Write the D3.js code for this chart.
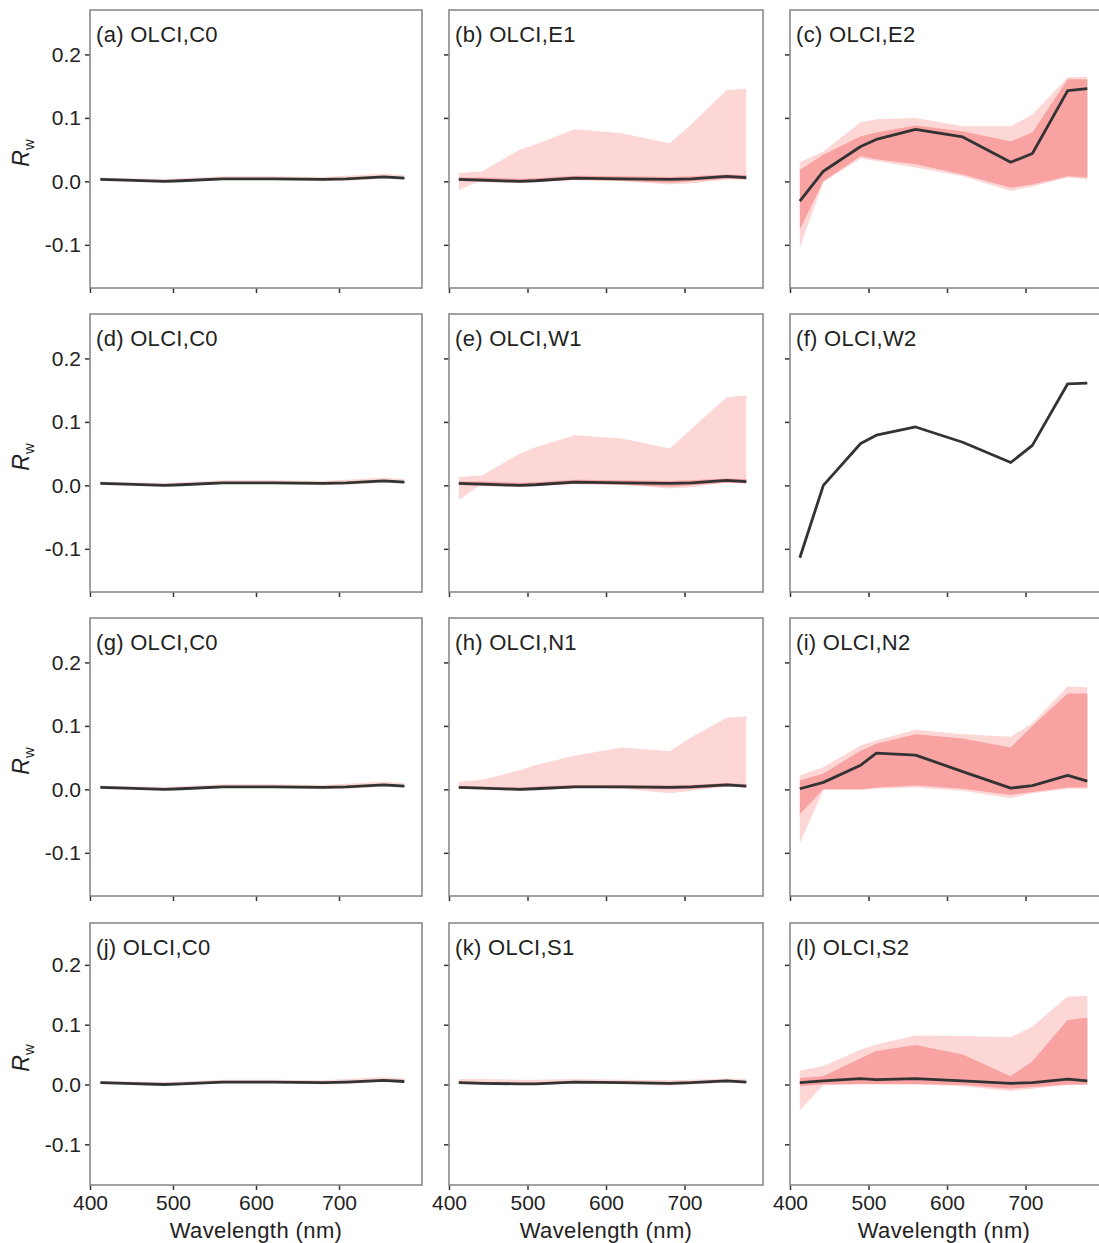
<!DOCTYPE html>
<html>
<head>
<meta charset="utf-8">
<script src="https://cdn.jsdelivr.net/npm/d3@7"></script>
<style>
  body { margin: 0; background: #fff; }
  text { font-family: "Liberation Sans", Arial, sans-serif; fill: #222; }
</style>
</head>
<body>
<script>
// OLCI band centres (nm)
var wl = [412.5, 442.5, 490, 510, 560, 620, 681.25, 708.75, 753.75, 778.75];

// C0 (clear)
var C0_mean    = [0.003, 0.002, 0.000, 0.001, 0.004, 0.004, 0.003, 0.004, 0.007, 0.005];
var C0_lightHi = [0.006, 0.005, 0.004, 0.005, 0.008, 0.008, 0.007, 0.009, 0.012, 0.010];
var C0_lightLo = [0.001, 0.000, -0.002, -0.001, 0.002, 0.002, 0.000, 0.001, 0.004, 0.003];
var C0_darkHi  = [0.004, 0.003, 0.001, 0.002, 0.005, 0.005, 0.004, 0.005, 0.008, 0.006];
var C0_darkLo  = [0.002, 0.001, -0.001, 0.000, 0.003, 0.003, 0.002, 0.003, 0.006, 0.004];

// E1 / E2
var E1_mean    = [0.003, 0.002, 0.000, 0.001, 0.005, 0.004, 0.003, 0.004, 0.008, 0.006];
var E1_lightHi = [0.013, 0.016, 0.050, 0.058, 0.082, 0.076, 0.060, 0.090, 0.144, 0.146];
var E1_lightLo = [-0.014, 0.003, 0.000, 0.000, 0.003, 0.000, -0.005, -0.003, 0.003, 0.003];
var E1_darkHi  = [0.006, 0.006, 0.004, 0.005, 0.009, 0.008, 0.007, 0.008, 0.011, 0.010];
var E1_darkLo  = [0.000, -0.001, -0.002, -0.001, 0.002, 0.001, -0.002, 0.000, 0.004, 0.003];

var E2_mean    = [-0.031, 0.016, 0.055, 0.066, 0.082, 0.070, 0.030, 0.044, 0.143, 0.146];
var E2_lightHi = [0.030, 0.047, 0.093, 0.098, 0.100, 0.087, 0.087, 0.105, 0.164, 0.165];
var E2_lightLo = [-0.104, -0.001, 0.036, 0.032, 0.022, 0.008, -0.015, -0.008, 0.006, 0.003];
var E2_darkHi  = [0.018, 0.042, 0.071, 0.077, 0.088, 0.079, 0.063, 0.077, 0.161, 0.161];
var E2_darkLo  = [-0.076, 0.000, 0.040, 0.035, 0.027, 0.011, -0.010, -0.005, 0.008, 0.006];

// W1 / W2
var W1_mean    = [0.003, 0.002, 0.000, 0.001, 0.005, 0.004, 0.003, 0.004, 0.008, 0.006];
var W1_lightHi = [0.013, 0.016, 0.050, 0.060, 0.079, 0.074, 0.058, 0.089, 0.139, 0.142];
var W1_lightLo = [-0.023, 0.003, 0.000, 0.001, 0.004, 0.001, -0.005, -0.003, 0.005, 0.004];
var W1_darkHi  = [0.006, 0.006, 0.004, 0.005, 0.009, 0.008, 0.007, 0.008, 0.011, 0.010];
var W1_darkLo  = [0.000, -0.001, -0.002, -0.001, 0.002, 0.001, -0.002, 0.000, 0.004, 0.003];

var W2_mean    = [-0.114, 0.000, 0.066, 0.079, 0.092, 0.068, 0.036, 0.063, 0.160, 0.161];

// N1 / N2
var N1_mean    = [0.003, 0.002, 0.000, 0.001, 0.004, 0.004, 0.003, 0.004, 0.007, 0.005];
var N1_lightHi = [0.012, 0.015, 0.030, 0.038, 0.053, 0.066, 0.060, 0.082, 0.113, 0.115];
var N1_lightLo = [0.000, 0.002, 0.000, 0.001, 0.003, 0.001, -0.006, -0.002, 0.004, 0.004];
var N1_darkHi  = [0.005, 0.004, 0.003, 0.004, 0.007, 0.007, 0.006, 0.007, 0.010, 0.008];
var N1_darkLo  = [0.001, 0.000, -0.002, -0.001, 0.002, 0.002, 0.000, 0.001, 0.005, 0.003];

var N2_mean    = [0.001, 0.011, 0.038, 0.057, 0.054, 0.028, 0.002, 0.006, 0.022, 0.013];
var N2_lightHi = [0.022, 0.035, 0.069, 0.077, 0.094, 0.087, 0.083, 0.104, 0.162, 0.161];
var N2_lightLo = [-0.085, -0.001, -0.001, 0.001, 0.003, -0.002, -0.014, -0.006, 0.001, 0.001];
var N2_darkHi  = [0.014, 0.025, 0.061, 0.072, 0.087, 0.080, 0.066, 0.100, 0.151, 0.151];
var N2_darkLo  = [-0.039, 0.000, 0.000, 0.003, 0.006, 0.001, -0.009, -0.004, 0.003, 0.003];

// S1 / S2
var S1_mean    = [0.003, 0.002, 0.001, 0.001, 0.004, 0.003, 0.002, 0.003, 0.006, 0.004];
var S1_lightHi = [0.009, 0.009, 0.008, 0.008, 0.009, 0.008, 0.007, 0.008, 0.010, 0.009];
var S1_lightLo = [0.001, 0.000, -0.001, -0.001, 0.002, 0.001, -0.002, 0.000, 0.003, 0.002];
var S1_darkHi  = [0.005, 0.004, 0.003, 0.003, 0.006, 0.005, 0.004, 0.005, 0.008, 0.006];
var S1_darkLo  = [0.002, 0.001, 0.000, 0.000, 0.003, 0.002, 0.000, 0.002, 0.005, 0.003];

var S2_mean    = [0.003, 0.006, 0.010, 0.008, 0.010, 0.006, 0.002, 0.003, 0.009, 0.006];
var S2_lightHi = [0.023, 0.031, 0.058, 0.067, 0.082, 0.081, 0.079, 0.097, 0.147, 0.148];
var S2_lightLo = [-0.043, -0.001, 0.000, 0.000, 0.000, -0.003, -0.011, -0.007, -0.001, -0.001];
var S2_darkHi  = [0.011, 0.014, 0.044, 0.056, 0.066, 0.050, 0.014, 0.039, 0.108, 0.112];
var S2_darkLo  = [-0.003, 0.000, 0.001, 0.001, 0.001, -0.001, -0.007, -0.004, 0.000, 0.000];

var panelLabels = ["(a) OLCI,C0", "(b) OLCI,E1", "(c) OLCI,E2",
                   "(d) OLCI,C0", "(e) OLCI,W1", "(f) OLCI,W2",
                   "(g) OLCI,C0", "(h) OLCI,N1", "(i) OLCI,N2",
                   "(j) OLCI,C0", "(k) OLCI,S1", "(l) OLCI,S2"];
var panelSets = ["C0", "E1", "E2", "C0", "W1", "W2", "C0", "N1", "N2", "C0", "S1", "S2"];
var xTicks = [400, 500, 600, 700];
var yTicks = [-0.1, 0.0, 0.1, 0.2];

var sets = {
  C0: [C0_mean, C0_lightLo, C0_lightHi, C0_darkLo, C0_darkHi],
  E1: [E1_mean, E1_lightLo, E1_lightHi, E1_darkLo, E1_darkHi],
  E2: [E2_mean, E2_lightLo, E2_lightHi, E2_darkLo, E2_darkHi],
  W1: [W1_mean, W1_lightLo, W1_lightHi, W1_darkLo, W1_darkHi],
  W2: [W2_mean, null, null, null, null],
  N1: [N1_mean, N1_lightLo, N1_lightHi, N1_darkLo, N1_darkHi],
  N2: [N2_mean, N2_lightLo, N2_lightHi, N2_darkLo, N2_darkHi],
  S1: [S1_mean, S1_lightLo, S1_lightHi, S1_darkLo, S1_darkHi],
  S2: [S2_mean, S2_lightLo, S2_lightHi, S2_darkLo, S2_darkHi]
};

var W = 1099, H = 1243;
var colX = [[90, 422], [449, 763], [790, 1104]];
var rowY = [[10, 288], [314, 592], [618, 896], [923, 1185]];

var svg = d3.select("body").append("svg").attr("width", W).attr("height", H);

panelLabels.forEach(function(lab, i) {
  var r = Math.floor(i / 3), c = i % 3;
  var x = d3.scaleLinear().domain([400, 800]).range(colX[c]);
  var y = d3.scaleLinear().domain([-0.168, 0.27]).range([rowY[r][1], rowY[r][0]]);
  var s = sets[panelSets[i]];
  var g = svg.append("g");

  var cid = "clip" + i;
  g.append("clipPath").attr("id", cid).append("rect")
    .attr("x", colX[c][0]).attr("y", rowY[r][0])
    .attr("width", colX[c][1] - colX[c][0]).attr("height", rowY[r][1] - rowY[r][0]);
  var plot = g.append("g").attr("clip-path", "url(#" + cid + ")");

  function band(lo, hi, col) {
    var area = d3.area()
      .x(function(d, k) { return x(wl[k]); })
      .y0(function(d, k) { return y(lo[k]); })
      .y1(function(d, k) { return y(hi[k]); });
    plot.append("path").attr("d", area(wl)).attr("fill", col);
  }
  if (s[1]) band(s[1], s[2], "#fdd6d6");
  if (s[3]) band(s[3], s[4], "#f8a2a2");

  var line = d3.line()
    .x(function(d, k) { return x(wl[k]); })
    .y(function(d) { return y(d); });
  plot.append("path").attr("d", line(s[0]))
    .attr("fill", "none").attr("stroke", "#333").attr("stroke-width", 2.8)
    .attr("stroke-linejoin", "round");

  // axes
  var ya = g.append("g").attr("transform", "translate(" + colX[c][0] + ",0)")
    .call(d3.axisLeft(y).tickValues(yTicks).tickSize(5).tickPadding(4)
      .tickFormat(function(d) { return c == 0 ? d.toFixed(1) : ""; }));
  var xa = g.append("g").attr("transform", "translate(0," + rowY[r][1] + ")")
    .call(d3.axisBottom(x).tickValues(xTicks).tickSize(5).tickPadding(5)
      .tickFormat(function(d) { return r == 3 ? d : ""; }));
  [ya, xa].forEach(function(a) {
    a.select(".domain").remove();
    a.selectAll(".tick line").attr("stroke", "#333").attr("stroke-width", 1.5);
    a.selectAll(".tick text").attr("font-size", 21).attr("fill", "#222")
      .style("font-family", "Liberation Sans, Arial, sans-serif");
  });

  // frame
  g.append("rect")
    .attr("x", colX[c][0]).attr("y", rowY[r][0])
    .attr("width", colX[c][1] - colX[c][0]).attr("height", rowY[r][1] - rowY[r][0])
    .attr("fill", "none").attr("stroke", "#8a8a8a").attr("stroke-width", 1.6);

  g.append("text")
    .attr("x", colX[c][0] + 6).attr("y", rowY[r][0] + 32)
    .attr("font-size", 22).attr("letter-spacing", 0.3)
    .text(lab);

  if (c == 0) {
    var cy = (rowY[r][0] + rowY[r][1]) / 2 + 4;
    var t = g.append("text")
      .attr("transform", "translate(29," + cy + ") rotate(-90)")
      .attr("text-anchor", "middle").attr("font-size", 23);
    t.append("tspan").attr("font-style", "italic").text("R");
    t.append("tspan").attr("font-size", 15).attr("dy", 5).text("w");
  }
  if (r == 3) {
    svg.append("text")
      .attr("x", (colX[c][0] + colX[c][1]) / 2 + (c == 2 ? -3 : 0))
      .attr("y", 1238).attr("text-anchor", "middle")
      .attr("font-size", 22).attr("letter-spacing", 0.4)
      .text("Wavelength (nm)");
  }
});
</script>
</body>
</html>
